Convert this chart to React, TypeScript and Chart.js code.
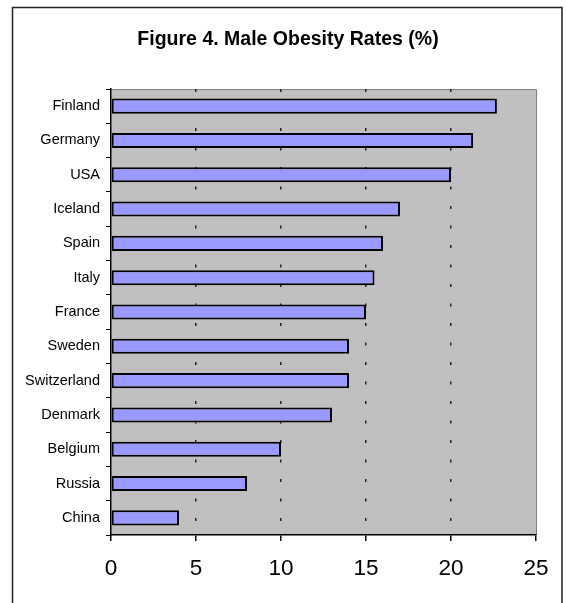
import React, { useEffect, useRef } from "react";
import { Chart, registerables } from "chart.js";

Chart.register(...registerables);

const countries = [
  "Finland", "Germany", "USA", "Iceland", "Spain", "Italy", "France",
  "Sweden", "Switzerland", "Denmark", "Belgium", "Russia", "China",
];
const obesityRates = [22.7, 21.3, 20, 17, 16, 15.5, 15, 14, 14, 13, 10, 8, 4];
const titleText = "Figure 4. Male Obesity Rates (%)";
const xMin = 0;
const xMax = 25;
const xStep = 5;

const FONT = "'Liberation Sans', Arial, sans-serif";

const framePlugin = {
  id: "frame",
  beforeDraw(chart: any) {
    const { ctx, chartArea } = chart;
    ctx.save();
    ctx.fillStyle = "#ffffff";
    ctx.fillRect(0, 0, chart.width, chart.height);
    // outer box
    ctx.strokeStyle = "#222";
    ctx.lineWidth = 1.5;
    ctx.strokeRect(12.5, 7.5, 549.5, 700);
    // plot area
    ctx.fillStyle = "#C0C0C0";
    ctx.fillRect(chartArea.left, chartArea.top, chartArea.right - chartArea.left, chartArea.bottom - chartArea.top);
    ctx.strokeStyle = "#808080";
    ctx.lineWidth = 1;
    ctx.beginPath();
    ctx.moveTo(chartArea.left, chartArea.top + 0.5);
    ctx.lineTo(chartArea.right + 0.5, chartArea.top + 0.5);
    ctx.lineTo(chartArea.right + 0.5, chartArea.bottom);
    ctx.stroke();
    // title
    ctx.fillStyle = "#000";
    ctx.font = `bold 19.5px ${FONT}`;
    ctx.textAlign = "center";
    ctx.textBaseline = "middle";
    ctx.fillText(titleText, 288, 40);
    ctx.restore();
  },
};

export default function App() {
  const ref = useRef<HTMLCanvasElement>(null);
  useEffect(() => {
    if (!ref.current) return;
    const chart = new Chart(ref.current, {
      type: "bar",
      data: {
        labels: countries,
        datasets: [
          {
            data: obesityRates,
            backgroundColor: "#9999FF",
            borderColor: "#000000",
            borderWidth: 2,
            borderSkipped: false,
            barPercentage: 0.44,
            categoryPercentage: 1,
          },
        ],
      },
      options: {
        indexAxis: "y",
        responsive: false,
        animation: false,
        devicePixelRatio: 1,
        layout: { padding: { top: 89, right: 30, left: 0, bottom: 0 } },
        plugins: {
          legend: { display: false },
          title: { display: false },
          tooltip: { enabled: false },
        },
        scales: {
          y: {
            type: "category",
            grid: {
              display: true,
              drawOnChartArea: false,
              drawTicks: true,
              tickLength: 5,
              tickColor: "#000",
              offset: true,
            },
            border: { display: true, color: "#000", width: 1.5 },
            ticks: {
              color: "#000",
              font: { family: FONT, size: 14.5 },
              padding: 6,
            },
            afterFit: (s: any) => {
              s.width = 111;
            },
          },
          x: {
            type: "linear",
            min: xMin,
            max: xMax,
            ticks: {
              stepSize: xStep,
              color: "#000",
              font: { family: FONT, size: 22.5 },
              padding: 14.5,
            },
            grid: {
              color: (c: any) =>
                c.tick && (c.tick.value === xMin || c.tick.value === xMax) ? "rgba(0,0,0,0)" : "#222",
              tickColor: "#000",
              tickLength: 6,
              lineWidth: 1.5,
            },
            border: { display: true, color: "#000", width: 1.5, dash: [3, 16.5] },
            afterFit: (s: any) => {
              s.height = 68;
            },
          },
        },
      },
      plugins: [framePlugin],
    } as any);
    return () => chart.destroy();
  }, []);
  return (
    <div style={{ position: "fixed", left: 0, top: 0, width: 566, height: 603, background: "#fff" }}>
      <canvas ref={ref} width={566} height={603} style={{ display: "block" }} />
    </div>
  );
}
